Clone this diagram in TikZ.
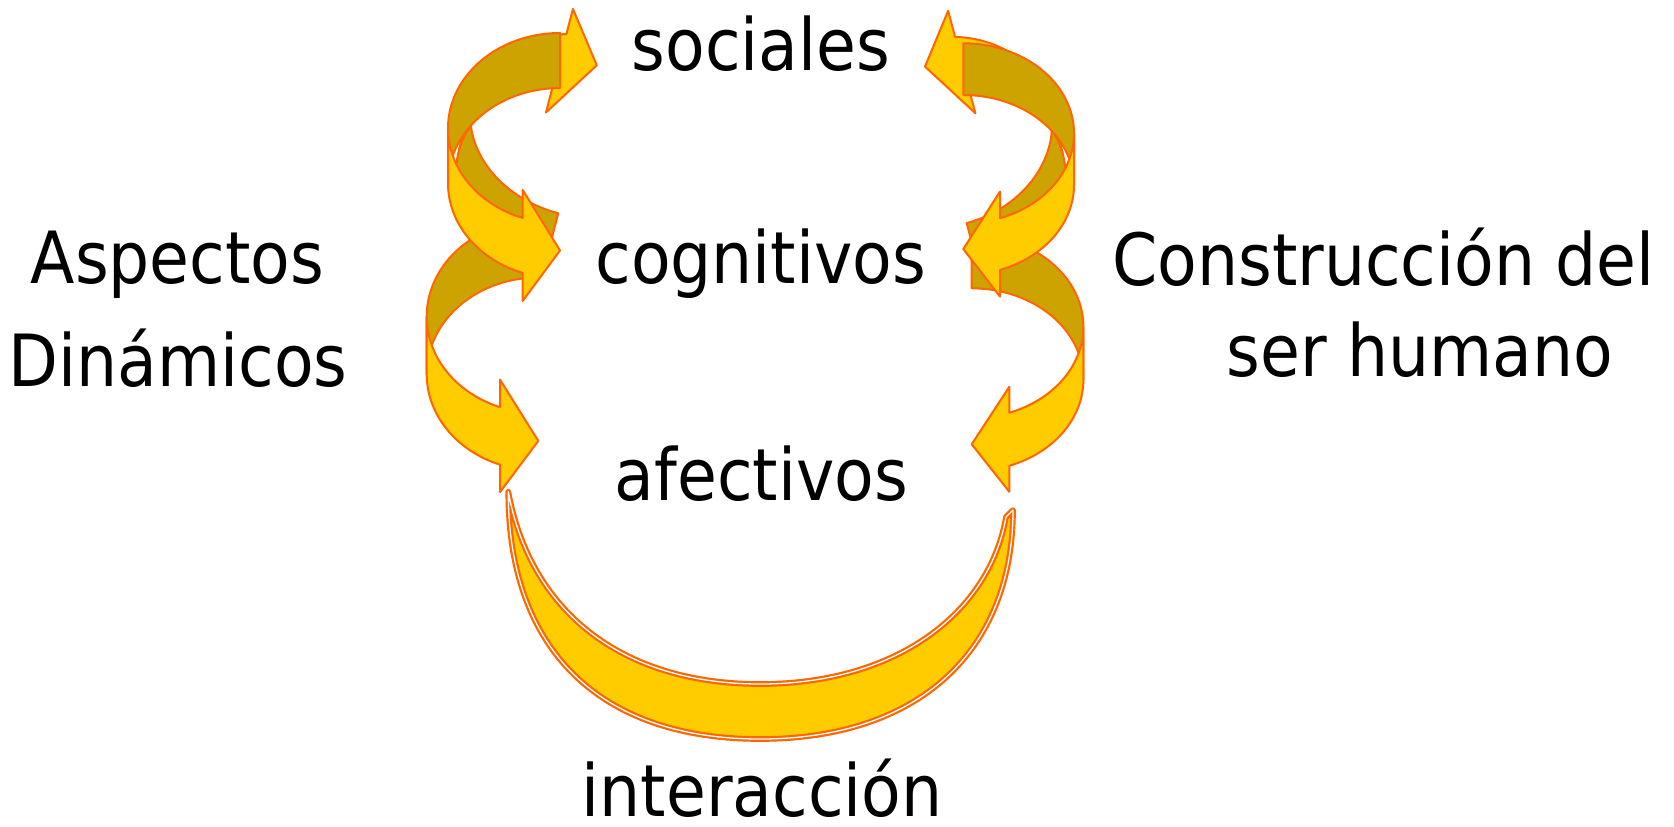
\documentclass[tikz,border=0pt]{standalone}
\usepackage{fontspec}
\setmainfont{DejaVu Sans Condensed}
\definecolor{gold}{RGB}{255,204,0}
\definecolor{darkgold}{RGB}{204,163,0}
\definecolor{orng}{RGB}{255,102,0}
\newcommand{\cArrow}[5]{%
  \pgfmathsetmacro\cA{acos(-#4/#1)}%
  \pgfmathsetmacro\yI{#2+#2*sin(\cA)}%
  \pgfmathsetmacro\yO{#2+#3+#2*sin(\cA)}%
  \pgfmathsetmacro\yT{(\yI+\yO)/2+5}%
  \path[backband] plot[variable=\t,domain=-90:-180,samples=40] ({#1*cos(\t)},{#2+#2*sin(\t)})
     -- plot[variable=\t,domain=180:270,samples=40] ({#1*cos(\t)},{#2+#3+#2*sin(\t)}) -- cycle;
  \path[frontband] plot[variable=\t,domain=180:\cA,samples=40] ({#1*cos(\t)},{#2+#2*sin(\t)})
     -- (-#4,\yI-#5) -- (0,\yT) -- (-#4,\yO+#5)
     -- plot[variable=\t,domain=\cA:180,samples=40] ({#1*cos(\t)},{#2+#3+#2*sin(\t)}) -- cycle;
}
\begin{document}
\begin{tikzpicture}[x=1pt,y=-1pt,
  backband/.style={fill=darkgold,draw=orng,line width=2,line join=round},
  frontband/.style={fill=gold,draw=orng,line width=2,line join=round},
  crescent/.style={fill=gold,draw=orng,line width=2.2,double=white,double distance=1.3,line join=round},
  lbl/.style={anchor=base,inner sep=0pt,text depth=0pt,font=\fontsize{72}{80}\selectfont}]
\useasboundingbox (0,0) rectangle (1674,827);
\fill[white] (0,0) rectangle (1674,827);
% bottom crescent
\path[crescent] (508.3,491.7) .. controls (508,650) and (600,739) .. (760,739)
  .. controls (920,739) and (1013,650) .. (1013,510) -- (1006,517)
  .. controls (990,610) and (900,684) .. (760,684)
  .. controls (620,684) and (530,610) .. (508.3,491.7) -- cycle;
% left arrows
\begin{scope}[shift={(544.4,266.5)},rotate=-14.6,yscale=-1]
  \cArrow{112}{90.3}{55}{37.3}{26}
\end{scope}
\begin{scope}[shift={(538.3,220)}]
  \cArrow{111.6}{96.5}{57.5}{38.3}{27.5}
\end{scope}
\begin{scope}[shift={(560,33)}]
  \cArrow{112}{95.2}{55}{37.3}{28}
\end{scope}
% right arrows
\begin{scope}[shift={(980,273.3)},rotate=14.9,xscale=-1,yscale=-1]
  \cArrow{110.7}{94.1}{52}{36.7}{27}
\end{scope}
\begin{scope}[shift={(971.7,235.3)},xscale=-1]
  \cArrow{111.7}{91.4}{53}{37.6}{26}
\end{scope}
\begin{scope}[shift={(963.3,43.3)},xscale=-1]
  \cArrow{110.7}{90}{51.7}{36.7}{26.7}
\end{scope}
% texts
\node[lbl] (soc) at (760.8,70.7) {sociales};
\node[lbl] (cog) at (760.8,283.3) {cognitivos};
\node[lbl] (afe) at (761.3,500) {afectivos};
\node[lbl] (int) at (762,816) {interacción};
\node[lbl] (asp) at (177.5,283.3) {Aspectos};
\node[lbl] (din) at (178.3,386.7) {Dinámicos};
\node[lbl] (con) at (1383.5,285) {Construcción del};
\node[lbl] (ser) at (1420,376) {ser humano};
\end{tikzpicture}
\end{document}
